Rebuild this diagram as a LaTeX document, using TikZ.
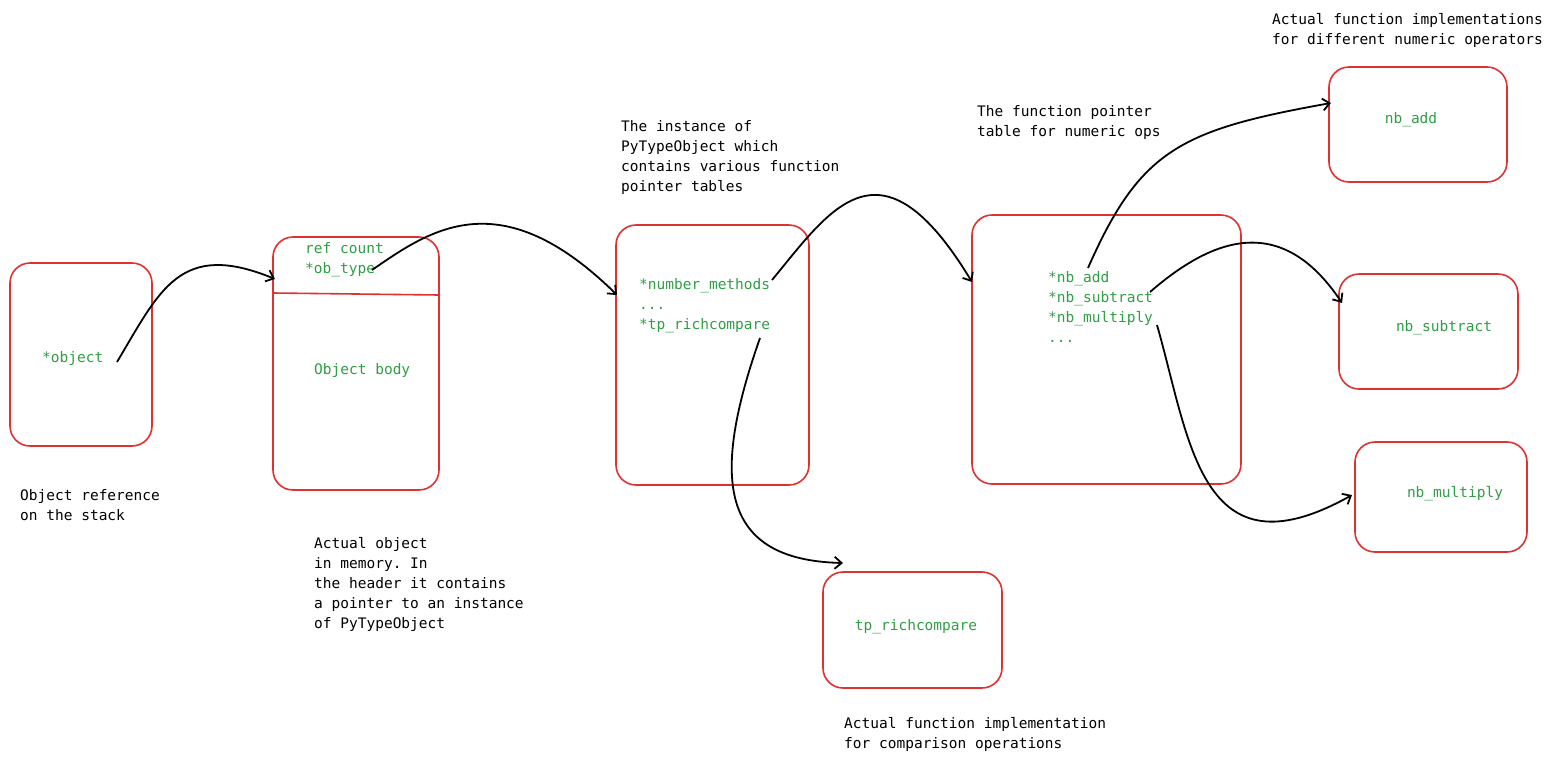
\documentclass[tikz,border=0pt]{standalone}
\usepackage{fontspec}
\setmonofont{DejaVu Sans Mono}
\usetikzlibrary{arrows.meta}
\definecolor{bred}{HTML}{E03131}
\definecolor{tgreen}{HTML}{2F9E44}
\begin{document}
\begin{tikzpicture}[x=1pt,y=-1pt,
  box/.style={draw=bred,line width=1.6pt,rounded corners=20pt},
  gt/.style={text=tgreen,font=\ttfamily\fontsize{14.5}{20}\selectfont,align=left,inner sep=0pt},
  bt/.style={text=black,font=\ttfamily\fontsize{14.5}{20}\selectfont,align=left,inner sep=0pt,anchor=north west},
  arr/.style={-{Straight Barb[length=7pt,width=12pt]},line width=1.8pt,black}]
\useasboundingbox (0,0) rectangle (1556,764);
\draw[box] (10,263) rectangle (152,446);
\draw[box] (273,237) rectangle (439,490);
\draw[bred,line width=1.6pt] (273,293) -- (439,295);
\draw[box] (616,225) rectangle (809,485);
\draw[box] (972,215) rectangle (1241,484);
\draw[box] (1329,67) rectangle (1507,182);
\draw[box] (1339,274) rectangle (1518,389);
\draw[box] (1355,442) rectangle (1527,552);
\draw[box] (823,572) rectangle (1002,688);

\node[gt,anchor=west] (obj) at (42,358) {*object};
\node[gt,anchor=north west] (hdr) at (305,242) {ref count\\*ob\_type};
\node[gt,anchor=west] (body) at (314,370) {Object body};
\node[gt,anchor=north west] (tp) at (639,278) {*number\_methods\\...\\*tp\_richcompare};
\node[gt,anchor=north west] (nm) at (1048,271) {*nb\_add\\*nb\_subtract\\*nb\_multiply\\...};
\node[gt] (add) at (1411,120) {nb\_add};
\node[gt] (sub) at (1444,328) {nb\_subtract};
\node[gt] (mul) at (1455,494) {nb\_multiply};
\node[gt] (rc) at (916,627) {tp\_richcompare};

\node[bt] (t1) at (20,489) {Object reference\\on the stack};
\node[bt] (t2) at (314,537) {Actual object\\in memory. In\\the header it contains\\a pointer to an instance\\of PyTypeObject};
\node[bt] (t3) at (621,120) {The instance of\\PyTypeObject which\\contains various function\\pointer tables};
\node[bt] (t4) at (977,105) {The function pointer\\table for numeric ops};
\node[bt] (t5) at (1272,13) {Actual function implementations\\for different numeric operators};
\node[bt] (t6) at (844,717) {Actual function implementation\\for comparison operations};

\coordinate (a1s) at (117,362); \coordinate (a1e) at (275,279);
\coordinate (a2s) at (372,270); \coordinate (a2e) at (617,295);
\coordinate (a3s) at (772,280); \coordinate (a3e) at (972,282);
\coordinate (a4s) at (760,338); \coordinate (a4e) at (843,563);
\coordinate (a5s) at (1088,268); \coordinate (a5e) at (1331,103);
\coordinate (a6s) at (1150,292); \coordinate (a6e) at (1342,303);
\coordinate (a7s) at (1157,325); \coordinate (a7e) at (1352,495);

\draw[arr] (a1s) .. controls (160,290) and (180,240) .. (a1e);
\draw[arr] (a2s) .. controls (430,230) and (500,180) .. (a2e);
\draw[arr] (a3s) .. controls (830,210) and (880,130) .. (a3e);
\draw[arr] (a4s) .. controls (710,480) and (720,560) .. (a4e);
\draw[arr] (a5s) .. controls (1140,150) and (1180,130) .. (a5e);
\draw[arr] (a6s) .. controls (1210,240) and (1280,210) .. (a6e);
\draw[arr] (a7s) .. controls (1190,440) and (1200,580) .. (a7e);
\end{tikzpicture}
\end{document}
